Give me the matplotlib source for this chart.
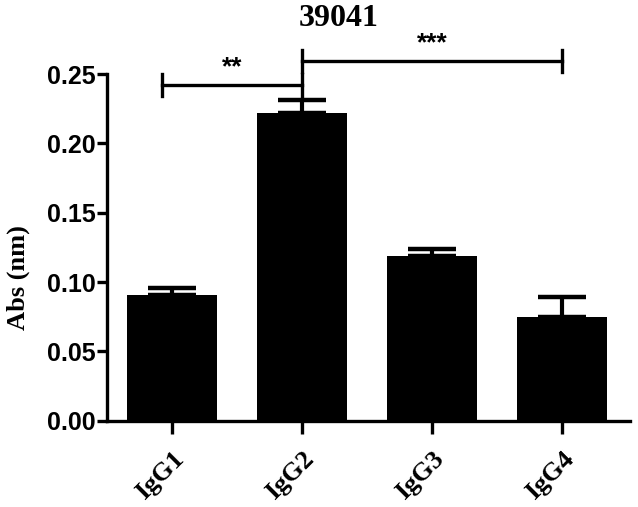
import matplotlib
matplotlib.use("Agg")
import matplotlib.pyplot as plt
from matplotlib.transforms import ScaledTranslation

categories = ["IgG1", "IgG2", "IgG3", "IgG4"]
values = [0.091, 0.222, 0.119, 0.075]
errors = [0.005, 0.009, 0.005, 0.014]
title = "39041"
ylabel = "Abs (nm)"
yticks = [0.00, 0.05, 0.10, 0.15, 0.20, 0.25]
# significance: (left x, right x, y, label)
sig = [(-0.08, 1, 0.242, "**"), (1, 3, 0.2594, "***")]

fig = plt.figure(figsize=(6.38, 5.07), dpi=100)
ax = fig.add_axes([0.168, 0.170, 0.819, 0.684])
x = list(range(len(categories)))
ax.bar(x, values, width=0.69, color="black", zorder=2)
ax.errorbar(x, values, yerr=[[0]*len(errors), errors], fmt="none", ecolor="black",
            elinewidth=3, capsize=17, capthick=3.2, zorder=1)

ax.set_xlim(-0.5, 3.52)
ax.set_ylim(0, 0.25)
ax.set_yticks(yticks)
ax.set_yticklabels([f"{v:.2f}" for v in yticks], fontfamily="Liberation Sans",
                   fontweight="bold", fontsize=18)
ax.set_xticks(x)
ax.set_xticklabels(categories, rotation=45, ha="right", rotation_mode="anchor",
                   fontfamily="Liberation Serif", fontweight="bold", fontsize=19)
shift = ScaledTranslation(10 / 100, 0, fig.dpi_scale_trans)
for lab in ax.get_xticklabels():
    lab.set_transform(lab.get_transform() + shift)
ax.tick_params(axis="y", length=7, width=2.4, pad=1)
ax.tick_params(axis="x", length=9, width=2.4, pad=10)
for s in ["top", "right"]:
    ax.spines[s].set_visible(False)
for s in ["left", "bottom"]:
    ax.spines[s].set_linewidth(2.4)
fig.text(18 / 638, 1 - 278 / 507, ylabel, rotation=90, ha="center", va="center",
         fontfamily="Liberation Serif", fontweight="bold", fontsize=19)
fig.text(339 / 638, 1 - 19 / 507, title, ha="center", va="center",
         fontfamily="Liberation Serif", fontweight="bold", fontsize=23)

for x0, x1, y, lab in sig:
    ax.plot([x0, x1], [y, y], color="black", lw=2.4, clip_on=False)
    ax.plot([x0, x0], [y - 0.008, y + 0.008], color="black", lw=2.4, clip_on=False)
    ax.plot([x1, x1], [y - 0.008, y + 0.008], color="black", lw=2.4, clip_on=False)
    ax.text((x0 + x1) / 2, y + 0.004, lab, ha="center", va="bottom",
            fontfamily="Liberation Sans", fontweight="bold", fontsize=19, clip_on=False)

fig.savefig("out.png", dpi=100)
